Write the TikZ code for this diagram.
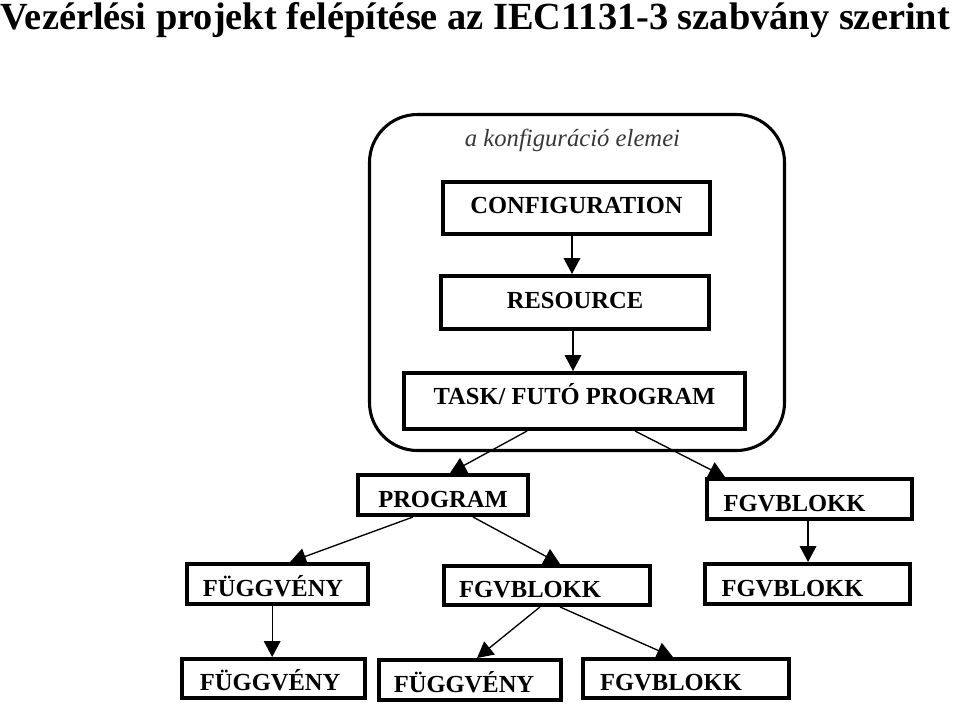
\documentclass[tikz,border=0pt]{standalone}
\usepackage{fontspec}
\setmainfont{Liberation Serif}
\usetikzlibrary{arrows.meta}
\begin{document}
\begin{tikzpicture}[x=0.75pt,y=-0.75pt,
  box/.style={draw,line width=3pt,inner sep=0pt,text height=18pt,text depth=0pt,font=\fontsize{18.4}{20}\selectfont\bfseries},
  upper/.style={text height=12.2pt,text depth=#1},
  conn/.style={line width=1pt,-{Triangle[length=12pt,width=12.5pt]}}]
\useasboundingbox (0,0) rectangle (960,704);
\node[anchor=base west,inner sep=0pt,font=\fontsize{28.8}{32}\selectfont\bfseries] (title) at (0.5,29) {Vezérlési projekt felépítése az IEC1131-3 szabvány szerint};

\node[draw,line width=2.3pt,rounded corners=36pt,minimum width=311.25pt,minimum height=252pt] (conf) at (577,282.5) {};
\node[font=\fontsize{18.5}{20}\selectfont\itshape,text=black!78] (lab) at (572.5,140) {a konfiguráció elemei};

\node[box,upper=4.5pt,minimum width=200.25pt,minimum height=39pt] (cfg) at (576.5,208) {CONFIGURATION};
\node[box,upper=3.8pt,minimum width=201pt,minimum height=39.75pt] (res) at (575,302.5) {RESOURCE};
\draw[conn] ([xshift=-3.4pt]cfg.south) -- ([xshift=-3.4pt]cfg.south |- res.north);
\node[box,upper=7.5pt,minimum width=255.75pt,minimum height=42pt] (task) at (574.5,401) {TASK/ FUTÓ PROGRAM};
\draw[conn] ([xshift=-1.5pt]res.south) -- ([xshift=-1.5pt]res.south |- task.north);

\node[box,minimum width=127.5pt,minimum height=30pt] (prog) at (443,495) {PROGRAM};
\draw[conn] ([xshift=-35.6pt]task.south) -- ([xshift=5.3pt]prog.north);
\node[box,minimum width=153.75pt,minimum height=30pt] (fb1) at (809.5,499) {FGVBLOKK\hspace*{22.5pt}};
\draw[conn] ([xshift=45.4pt]task.south) -- ([xshift=-63.4pt]fb1.north);
\node[box,minimum width=153.75pt,minimum height=30pt] (fb2) at (807.5,584) {FGVBLOKK\hspace*{22.5pt}};
\draw[conn] ([xshift=-1.1pt]fb1.south) -- ([xshift=-1.1pt]fb1.south |- fb2.north);

\node[box,minimum width=135.75pt,minimum height=30pt] (fvL) at (277.5,584) {FÜGGVÉNY\hspace*{6.75pt}};
\draw[conn] ([xshift=-22.5pt]prog.south) -- ([xshift=9.4pt]fvL.north);
\node[box,minimum width=154.5pt,minimum height=29.25pt] (fbM) at (547,585.5) {FGVBLOKK\hspace*{25.5pt}};
\draw[conn] ([xshift=22.5pt]prog.south) -- ([xshift=9.8pt]fbM.north);

\node[box,minimum width=137.25pt,minimum height=29.25pt] (fvLL) at (273.5,678.5) {FÜGGVÉNY\hspace*{5pt}};
\draw[conn] ([xshift=-4pt]fvL.south) -- ([xshift=-4pt]fvL.south |- fvLL.north);
\node[box,minimum width=136.5pt,minimum height=30pt] (fvBM) at (470,680) {FÜGGVÉNY\hspace*{9pt}};
\draw[conn] ([xshift=-5.3pt]fbM.south) -- ([xshift=5.3pt]fvBM.north);
\node[box,minimum width=154.5pt,minimum height=29.25pt] (fbBR) at (686,678.5) {FGVBLOKK\hspace*{22.5pt}};
\draw[conn] ([xshift=9.8pt]fbM.south) -- ([xshift=-9.8pt]fbBR.north);
\end{tikzpicture}
\end{document}
